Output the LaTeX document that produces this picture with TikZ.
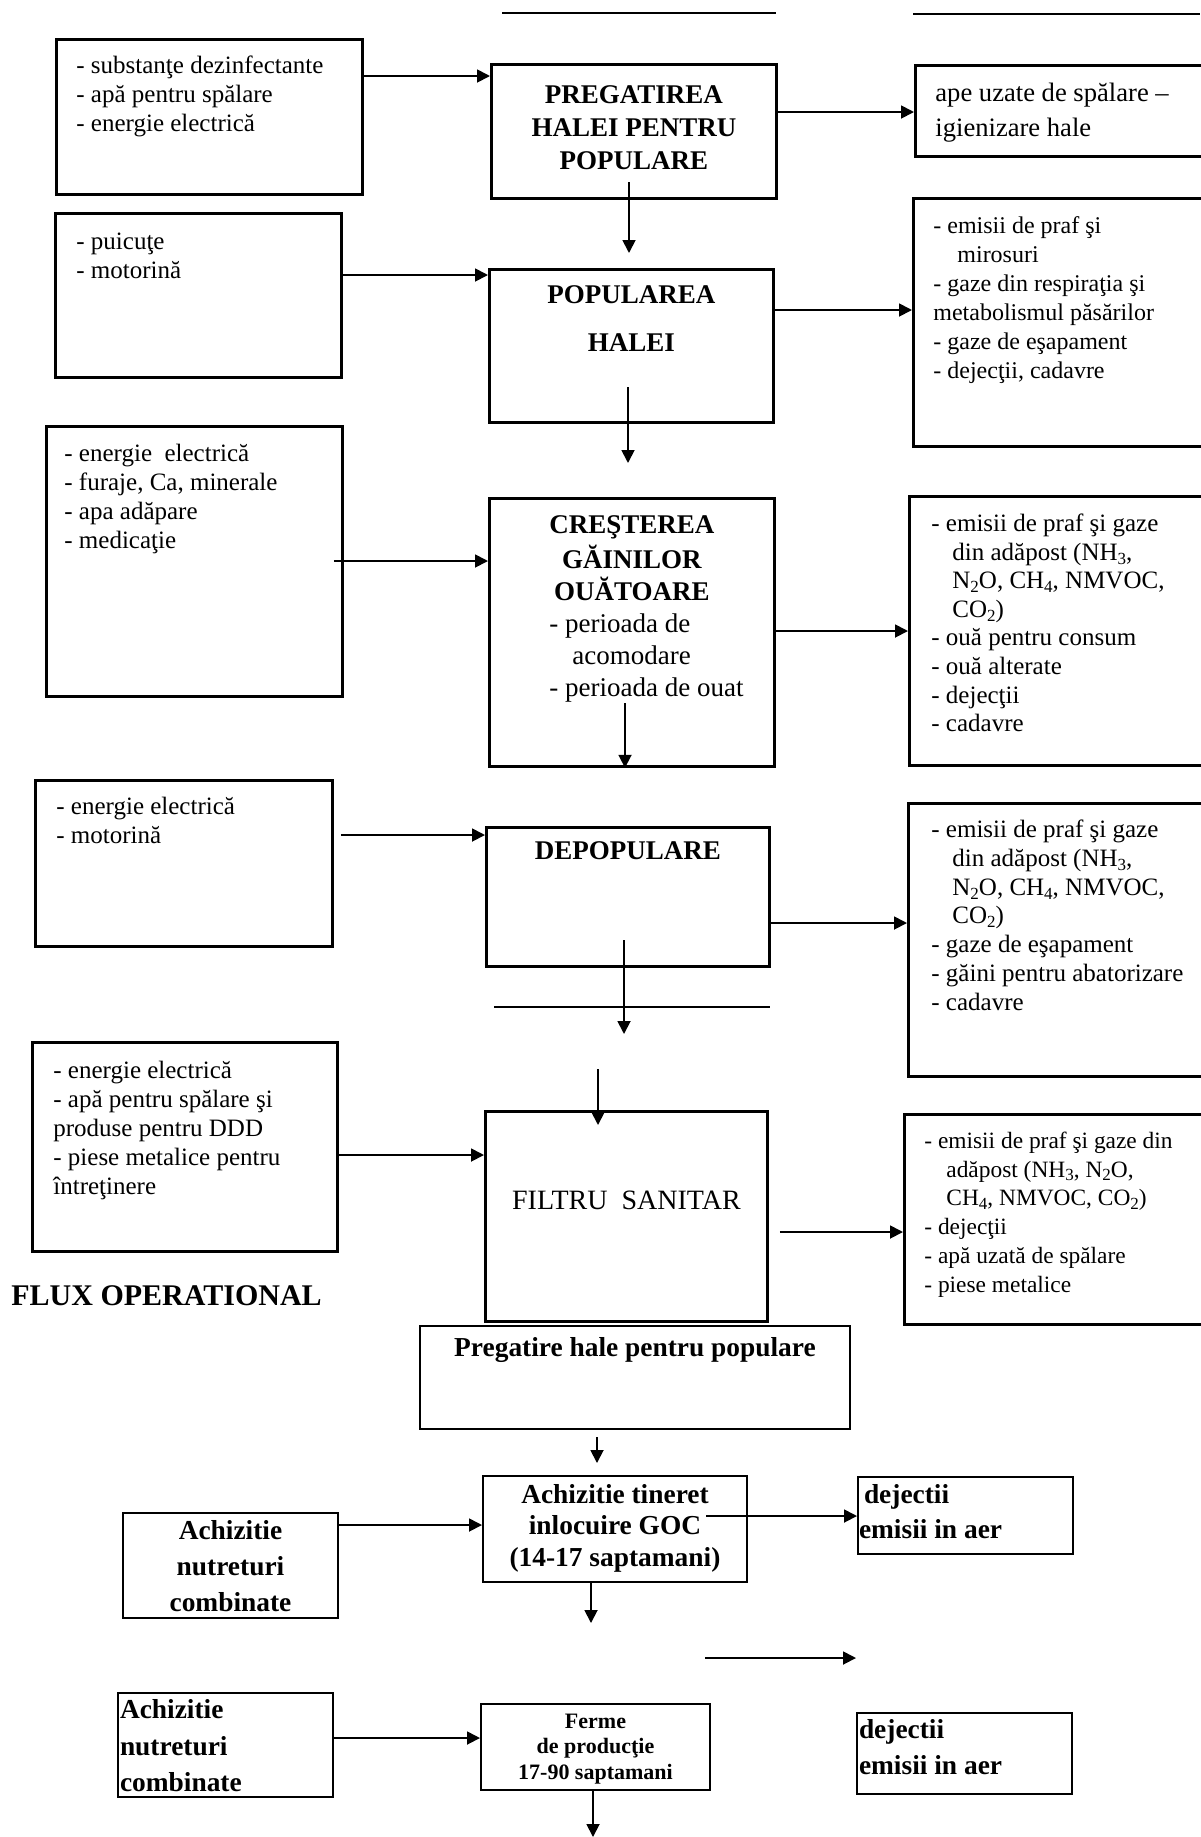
\documentclass[tikz,border=0pt]{standalone}
\usepackage{fontspec}
\setmainfont{Liberation Serif}
\usetikzlibrary{arrows.meta}

\newcommand{\lbox}[5]{\parbox[c][#2][t]{#1}{\raggedright\leftskip=#3\relax\vspace*{#4}\strut#5\par}}
\newcommand{\cbox}[4]{\parbox[c][#2][t]{#1}{\centering\vspace*{#3}\strut#4\par}}
\newcommand{\chem}[1]{\raisebox{-0.35ex}{\fontsize{8.5}{9}\selectfont#1}}
\newcommand{\ind}{\hspace*{10.5pt}}

\tikzset{
	box/.style={draw, line width=1.4pt, inner sep=0pt, anchor=north west},
	sbox/.style={box, line width=1pt},
	arr/.style={line width=0.9pt, -{Triangle[length=6.5pt,width=6.5pt]}},
	rule/.style={line width=1.3pt},
}

\begin{document}
\begin{tikzpicture}[x=0.5pt,y=-0.5pt]
	\useasboundingbox (0,0) rectangle (1200,1837);
	\draw[rule] (502,13) -- (776,13);
	\draw[rule] (913,14) -- (1200,14);

	\node[box, font=\fontsize{12.5}{14.5}\selectfont] (in1) at (55,38)
		{\lbox{153pt}{77.5pt}{10pt}{6.85pt}{- substanţe dezinfectante\\- apă pentru spălare\\- energie electrică}};
	\node[box, font=\fontsize{12.5}{14.5}\selectfont] (in2) at (54,212)
		{\lbox{143pt}{82pt}{10.5pt}{7.85pt}{- puicuţe\\- motorină}};
	\node[box, font=\fontsize{12.5}{14.5}\selectfont] (in3) at (45,425)
		{\lbox{148pt}{135pt}{9pt}{7.35pt}{- energie\ \ electrică\\- furaje, Ca, minerale\\- apa adăpare\\- medicaţie}};
	\node[box, font=\fontsize{12.5}{14.5}\selectfont] (in4) at (34,779)
		{\lbox{148.5pt}{83pt}{10.5pt}{6.85pt}{- energie electrică\\- motorină}};
	\node[box, font=\fontsize{12.5}{14.5}\selectfont] (in5) at (31,1041)
		{\lbox{152.5pt}{104.5pt}{10.5pt}{7.85pt}{- energie electrică\\- apă pentru spălare şi\\produse pentru DDD\\- piese metalice pentru\\întreţinere}};

	\node[box, font=\fontsize{13.5}{16.5}\selectfont\bfseries] (st1) at (490,63)
		{\cbox{142.5pt}{67pt}{7.95pt}{PREGATIREA\\HALEI PENTRU\\POPULARE}};
	\node[box, font=\fontsize{13.5}{24}\selectfont\bfseries] (st2) at (488,268)
		{\cbox{142pt}{76.5pt}{0.2pt}{POPULAREA\\HALEI}};
	\node[box, font=\fontsize{13.5}{16}\selectfont] (st3) at (488,497)
		{\cbox{142.5pt}{134pt}{6.3pt}{{\bfseries CREŞTEREA\\GĂINILOR\\OUĂTOARE\par}
		\raggedright\leftskip=30pt - perioada de\\\hspace*{11.5pt}acomodare\\- perioada de ouat}};
	\node[box, font=\fontsize{13.5}{16}\selectfont\bfseries] (st4) at (485,826)
		{\cbox{141.5pt}{69.5pt}{4.8pt}{DEPOPULARE}};
	\node[box, font=\fontsize{14}{17}\selectfont] (st5) at (484,1110)
		{\cbox{141pt}{105pt}{37.1pt}{FILTRU\ \ SANITAR}};

	\node[box, font=\fontsize{13.3}{17.5}\selectfont] (out1) at (914,64)
		{\lbox{144pt}{45.5pt}{10pt}{5.75pt}{ape uzate de spălare –\\igienizare hale}};
	\node[box, font=\fontsize{12}{14.5}\selectfont] (out2) at (912,197)
		{\lbox{145pt}{124pt}{10pt}{7.35pt}{- emisii de praf şi\\\hspace*{12pt}mirosuri\\- gaze din respiraţia şi\\metabolismul păsărilor\\- gaze de eşapament\\- dejecţii, cadavre}};
	\node[box, font=\fontsize{12.5}{14.3}\selectfont] (out3) at (908,495)
		{\lbox{147pt}{134.5pt}{11pt}{7.49pt}{- emisii de praf şi gaze\\\ind din adăpost (NH\chem{3},\\\ind N\chem{2}O, CH\chem{4}, NMVOC,\\\ind CO\chem{2})\\- ouă pentru consum\\- ouă alterate\\- dejecţii\\- cadavre}};
	\node[box, font=\fontsize{12.5}{14.4}\selectfont] (out4) at (907,802)
		{\lbox{147.5pt}{136.5pt}{11.5pt}{6.92pt}{- emisii de praf şi gaze\\\ind din adăpost (NH\chem{3},\\\ind N\chem{2}O, CH\chem{4}, NMVOC,\\\ind CO\chem{2})\\- gaze de eşapament\\- găini pentru abatorizare\\- cadavre}};
	\node[box, font=\fontsize{11.7}{14.4}\selectfont] (out5) at (903,1113)
		{\lbox{149.5pt}{105pt}{10pt}{6.9pt}{- emisii de praf şi gaze din\\\hspace*{11pt}adăpost (NH\chem{3}, N\chem{2}O,\\\hspace*{11pt}CH\chem{4}, NMVOC, CO\chem{2})\\- dejecţii\\- apă uzată de spălare\\- piese metalice}};

	\node[font=\fontsize{15}{18}\selectfont\bfseries, anchor=base west, inner sep=0pt] (flux) at (11,1305) {FLUX OPERATIONAL};

	\node[sbox, font=\fontsize{13.7}{16.5}\selectfont\bfseries] (prep) at (419,1325)
		{\cbox{215pt}{51.5pt}{3.45pt}{Pregatire hale pentru populare}};
	\node[sbox, font=\fontsize{13.7}{15.75}\selectfont\bfseries] (tin) at (482,1475)
		{\cbox{132pt}{53pt}{2.47pt}{Achizitie tineret\\inlocuire GOC\\(14-17 saptamani)}};
	\node[sbox, font=\fontsize{13.7}{18}\selectfont\bfseries] (nut1) at (122,1512)
		{\cbox{107.5pt}{52.5pt}{0.4pt}{Achizitie\\nutreturi\\combinate}};
	\node[sbox, font=\fontsize{13.7}{17.5}\selectfont\bfseries] (dej1) at (857,1476)
		{\lbox{107.5pt}{38.5pt}{0.5pt}{0.75pt}{\hspace*{2.5pt}dejectii\\emisii in aer}};
	\node[sbox, font=\fontsize{13.7}{18.25}\selectfont\bfseries] (nut2) at (117,1692)
		{\lbox{107.5pt}{52pt}{1pt}{0pt}{Achizitie\\nutreturi\\combinate}};
	\node[sbox, font=\fontsize{11}{12.75}\selectfont\bfseries] (ferme) at (480,1703)
		{\cbox{114.5pt}{43pt}{3.07pt}{Ferme\\de producţie\\17-90 saptamani}};
	\node[sbox, font=\fontsize{13.7}{18}\selectfont\bfseries] (dej2) at (856,1712)
		{\lbox{107.5pt}{40.5pt}{1pt}{0.25pt}{dejectii\\emisii in aer}};

	\draw[arr] (in1.east |- 0,76) -- (st1.west |- 0,76);
	\draw[arr] (st1.east |- 0,112) -- (out1.west |- 0,112);
	\coordinate (d1) at (629,182);
	\draw[arr, shorten >=7.5pt] (d1) -- (d1 |- st2.north);
	\draw[arr] (in2.east |- 0,275) -- (st2.west |- 0,275);
	\draw[arr] (st2.east |- 0,310) -- (out2.west |- 0,310);
	\coordinate (d2) at (628,387);
	\draw[arr, shorten >=17pt] (d2) -- (d2 |- st3.north);
	\draw[arr, shorten <=-5pt] (in3.east |- 0,561) -- (st3.west |- 0,561);
	\draw[arr] (st3.east |- 0,631) -- (out3.west |- 0,631);
	\coordinate (d3) at (625,703);
	\draw[arr] (d3) -- (d3 |- st3.south);
	\draw[arr, shorten <=3.5pt] (in4.east |- 0,835) -- (st4.west |- 0,835);
	\draw[arr] (st4.east |- 0,923) -- (out4.west |- 0,923);
	\coordinate (d4) at (624,940);
	\coordinate (d4e) at (624,1034);
	\draw[arr] (d4) -- (d4e);
	\draw[rule] (494,1007) -- (770,1007);
	\coordinate (d5) at (598,1069);
	\draw[arr, shorten >=-7.5pt] (d5) -- (d5 |- st5.north);
	\draw[arr] (in5.east |- 0,1155) -- (st5.west |- 0,1155);
	\draw[arr, shorten <=5.5pt] (st5.east |- 0,1232) -- (out5.west |- 0,1232);

	\coordinate (d6) at (597,1437);
	\draw[arr, shorten >=6pt] (d6) -- (d6 |- tin.north);
	\draw[arr] (nut1.east |- 0,1525) -- (tin.west |- 0,1525);
	\draw[arr, shorten <=-21pt] (tin.east |- 0,1516) -- (dej1.west |- 0,1516);
	\coordinate (d7) at (591,1623);
	\draw[arr] (d7 |- tin.south) -- (d7);
	\coordinate (f1) at (705,1658);
	\coordinate (f2) at (856,1658);
	\draw[arr] (f1) -- (f2);
	\draw[arr] (nut2.east |- 0,1738) -- (ferme.west |- 0,1738);
	\coordinate (d8) at (593,1837);
	\draw[arr] (d8 |- ferme.south) -- (d8);
\end{tikzpicture}
\end{document}
